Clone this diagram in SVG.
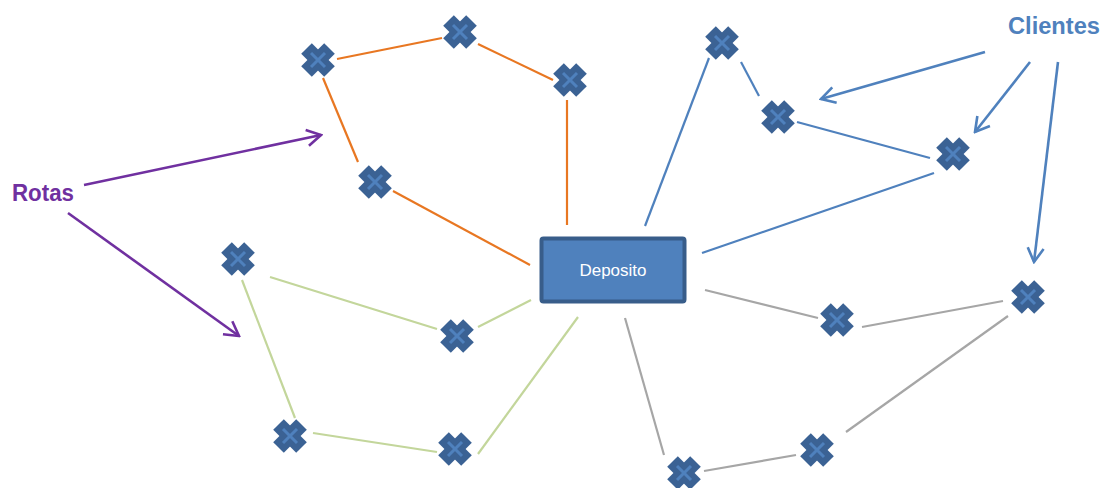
<svg xmlns="http://www.w3.org/2000/svg" width="1103" height="488" viewBox="0 0 1103 488">
<defs>
<style>
.or{stroke:#E87722;stroke-width:2.2;fill:none}
.gr{stroke:#C3D69B;stroke-width:2.2;fill:none}
.bl{stroke:#4F81BD;stroke-width:2.2;fill:none}
.gy{stroke:#A6A6A6;stroke-width:2.2;fill:none}
.pu{stroke:#7030A0;stroke-width:2.6;fill:none}
.ca{stroke:#4F81BD;stroke-width:2.6;fill:none}
.lbl{font-family:"Liberation Sans Narrow","Liberation Sans",Arial,sans-serif;font-weight:bold;font-size:23px}
</style>
<g id="xm">
<line x1="-11.5" y1="-11.5" x2="11.5" y2="11.5" stroke="#3B6294" stroke-width="15"/>
<line x1="-11.5" y1="11.5" x2="11.5" y2="-11.5" stroke="#3B6294" stroke-width="15"/>
<line x1="-7" y1="-7" x2="7" y2="7" stroke="#4F81BD" stroke-width="3"/>
<line x1="-7" y1="7" x2="7" y2="-7" stroke="#4F81BD" stroke-width="3"/>
</g>
<marker id="ap" viewBox="-16 -10 18 20" markerWidth="18" markerHeight="20" refX="0" refY="0" orient="auto" markerUnits="userSpaceOnUse">
<polyline points="-14,-8 0,0 -14,8" fill="none" stroke="#7030A0" stroke-width="2.6"/>
</marker>
<marker id="ab" viewBox="-16 -10 18 20" markerWidth="18" markerHeight="20" refX="0" refY="0" orient="auto" markerUnits="userSpaceOnUse">
<polyline points="-14,-8 0,0 -14,8" fill="none" stroke="#4F81BD" stroke-width="2.6"/>
</marker>
</defs>
<rect width="1103" height="488" fill="#FFFFFF"/>
<g id="connectors">
<line class="or" x1="530" y1="265" x2="393" y2="191"/>
<line class="or" x1="358" y1="162" x2="323" y2="78"/>
<line class="or" x1="337" y1="59" x2="442" y2="38"/>
<line class="or" x1="478" y1="44" x2="553" y2="80"/>
<line class="or" x1="567" y1="100" x2="567" y2="225"/>
<line class="gr" x1="270" y1="277" x2="437" y2="329"/>
<line class="gr" x1="478" y1="327" x2="531" y2="300"/>
<line class="gr" x1="242" y1="280" x2="295" y2="418"/>
<line class="gr" x1="313" y1="433" x2="437" y2="452"/>
<line class="gr" x1="478" y1="454" x2="578" y2="317"/>
<line class="bl" x1="645" y1="226" x2="709" y2="58"/>
<line class="bl" x1="741" y1="62" x2="759" y2="96"/>
<line class="bl" x1="797" y1="122" x2="930" y2="158"/>
<line class="bl" x1="934" y1="173" x2="702" y2="253"/>
<line class="gy" x1="705" y1="290" x2="818" y2="318"/>
<line class="gy" x1="862" y1="327" x2="1003" y2="301"/>
<line class="gy" x1="1008" y1="316" x2="846" y2="432"/>
<line class="gy" x1="796" y1="455" x2="704" y2="471"/>
<line class="gy" x1="664" y1="455" x2="625" y2="318"/>
<line class="pu" x1="84" y1="185" x2="321" y2="135" marker-end="url(#ap)"/>
<line class="pu" x1="68" y1="213" x2="239" y2="336" marker-end="url(#ap)"/>
<line class="ca" x1="985" y1="52" x2="821" y2="99" marker-end="url(#ab)"/>
<line class="ca" x1="1030" y1="62" x2="975" y2="132" marker-end="url(#ab)"/>
<line class="ca" x1="1058" y1="62" x2="1034" y2="262" marker-end="url(#ab)"/>
</g>
<g id="deposito">
<rect x="541.5" y="238.5" width="143" height="63" rx="2" fill="#4F81BD" stroke="#385D8A" stroke-width="4"/>
<text x="613" y="276" text-anchor="middle" font-family="'Liberation Sans Narrow','Liberation Sans',Arial,sans-serif" font-size="17" fill="#FFFFFF">Deposito</text>
</g>
<g id="rotas"><text class="lbl" x="12" y="201" fill="#7030A0" textLength="62" lengthAdjust="spacingAndGlyphs">Rotas</text></g>
<g id="clientes"><text class="lbl" x="1008" y="34" fill="#4F81BD" textLength="92" lengthAdjust="spacingAndGlyphs">Clientes</text></g>
<g id="c1"><use href="#xm" x="318" y="60"/></g>
<g id="c2"><use href="#xm" x="460" y="32"/></g>
<g id="c3"><use href="#xm" x="570" y="80"/></g>
<g id="c4"><use href="#xm" x="375" y="182"/></g>
<g id="c5"><use href="#xm" x="238" y="259"/></g>
<g id="c6"><use href="#xm" x="457" y="336"/></g>
<g id="c7"><use href="#xm" x="290" y="436"/></g>
<g id="c8"><use href="#xm" x="455" y="449"/></g>
<g id="c9"><use href="#xm" x="722" y="43"/></g>
<g id="c10"><use href="#xm" x="778" y="117"/></g>
<g id="c11"><use href="#xm" x="953" y="154"/></g>
<g id="c12"><use href="#xm" x="1028" y="297"/></g>
<g id="c13"><use href="#xm" x="837" y="320"/></g>
<g id="c14"><use href="#xm" x="817" y="450"/></g>
<g id="c15"><use href="#xm" x="684" y="473"/></g>
</svg>
